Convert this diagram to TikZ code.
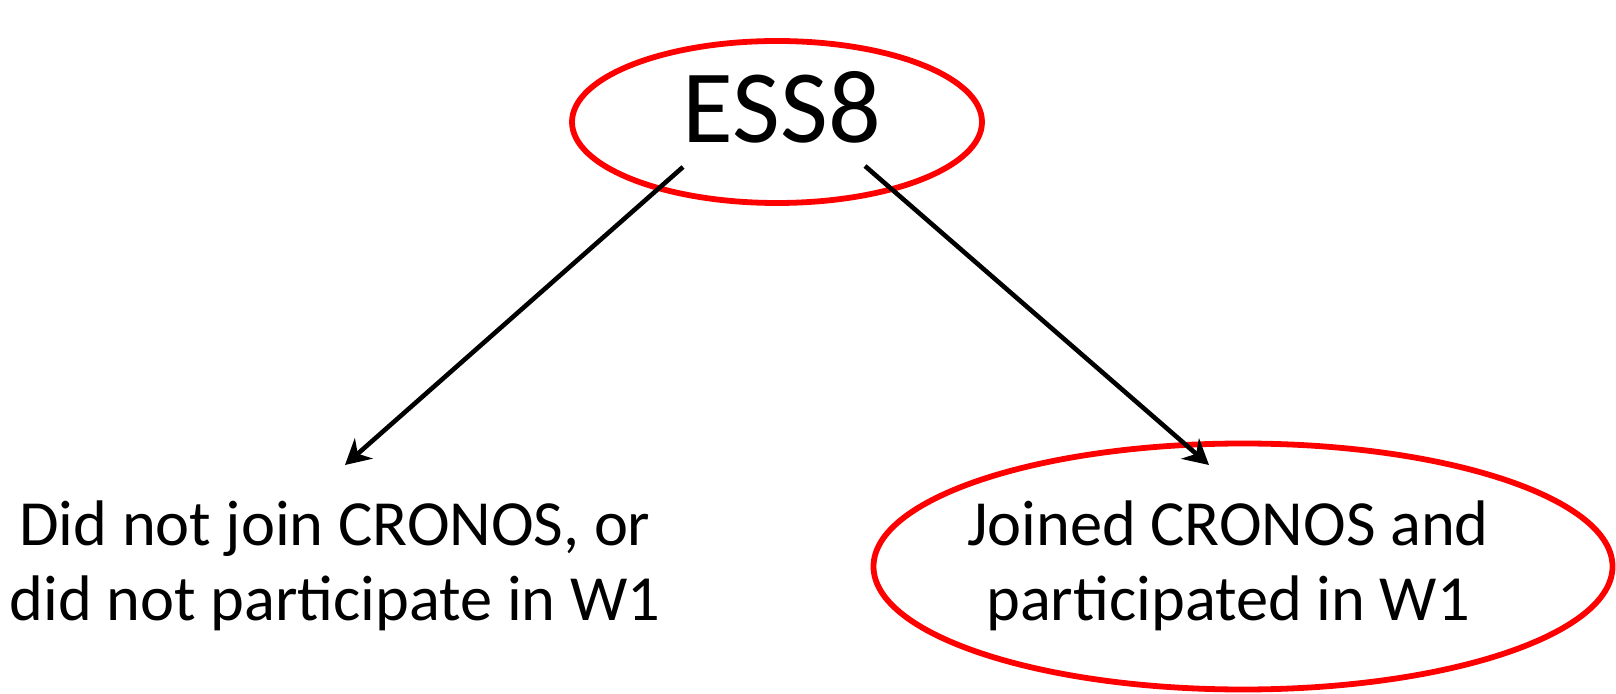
\documentclass[tikz,border=0pt]{standalone}
\usepackage{fontspec}
\setmainfont{Carlito}
\usetikzlibrary{arrows.meta, positioning}

\begin{document}
\begin{tikzpicture}[x=0.5pt, y=-0.5pt,
    ring/.style={draw=red, line width=2.9pt},
    link/.style={line width=2.3pt, -{Stealth[length=12.5pt, width=13.5pt, inset=4pt]}},
    big/.style={font=\fontsize{52}{62}\selectfont, inner sep=0pt},
    small/.style={font=\fontsize{32.2}{37.5}\selectfont, align=center, inner sep=0pt}]
            % Frame

            \useasboundingbox (0,0) rectangle (1616,694);

            % Nodes
            \node[big, anchor=base] (ess) at (782,143) {ESS8};
            \node[small] (notjoined) at (335,566) {Did not join CRONOS, or\\did not participate in W1};
            \node[small] (joined) at (1228,566) {Joined CRONOS and\\participated in W1};

            % Rings
            \draw[ring] (777,122) ellipse [x radius=102.5pt, y radius=40.5pt];
            \draw[ring] (1243,566.5) ellipse [x radius=184.75pt, y radius=61.5pt];

            % Arrows
            \coordinate (essL) at (683,167);
            \coordinate (essR) at (865,166);
            \coordinate (tipL) at (345,465);
            \coordinate (tipR) at (1209,465);
            \draw[link] (essL) -- (tipL);
            \draw[link] (essR) -- (tipR);

        \end{tikzpicture}
\end{document}
